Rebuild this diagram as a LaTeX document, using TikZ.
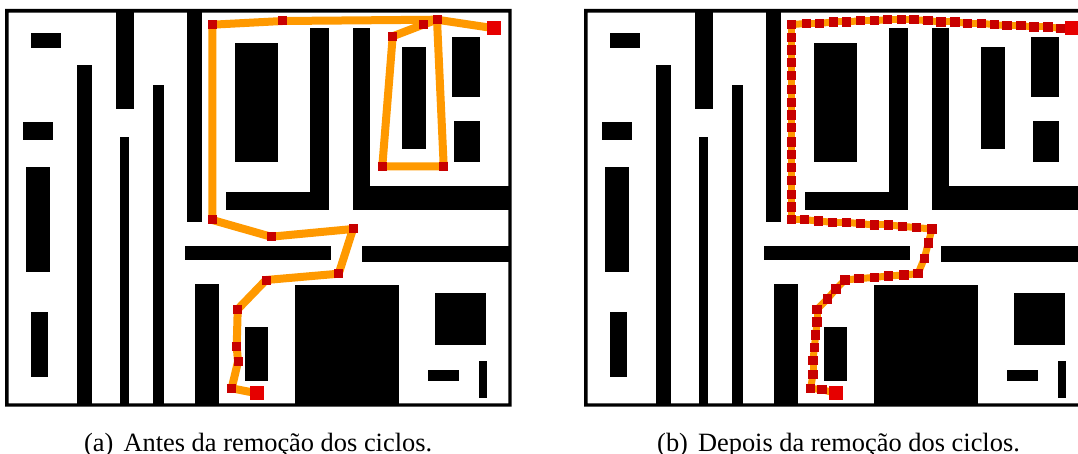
\documentclass[tikz,border=0pt]{standalone}
\usepackage{fontspec}
\setmainfont{Liberation Serif}
\definecolor{pathorange}{HTML}{FF9900}
\definecolor{waydark}{HTML}{C80000}
\definecolor{endred}{HTML}{E60000}
\tikzset{
  wall/.style={fill=black,draw=none},
  route/.style={draw=pathorange,line width=8pt,line join=bevel},
  routeb/.style={draw=pathorange,line width=7pt,line join=bevel},
  waya/.style={fill=waydark,draw=none,minimum size=9pt,inner sep=0pt,outer sep=0pt,rectangle},
  wayb/.style={fill=waydark,draw=none,minimum size=9.3pt,inner sep=0pt,outer sep=0pt,rectangle},
  endpt/.style={fill=endred,draw=none,minimum size=14pt,inner sep=0pt,outer sep=0pt,rectangle},
  caption/.style={inner sep=0pt,anchor=base west,font=\fontsize{26.4pt}{30pt}\selectfont},
}
\newcommand{\worldmap}{%
  \fill[black,even odd rule] (5,9) rectangle (511.7,406.7) (8.7,12.7) rectangle (508.3,403.3);
  \foreach \xa/\ya/\xb/\yb in {
    30.5/33/61/48.5,
    116/12/134/109.5,
    76.5/65/91.5/404,
    153/85/163.5/404,
    120/137.5/129/404,
    22.5/122/52.5/140.5,
    25.5/167/49.5/271.7,
    30.5/311.5/47.5/376.5,
    186.5/12/201.5/221.7,
    235/43/278.3/162.3,
    226/191.7/329.3/210.3,
    310/28.3/329.3/210.3,
    353.3/186/509/210.3,
    353.3/28.3/370/210.3,
    402.3/47.3/426.3/149.3,
    451.7/37/480.3/96.7,
    454.3/121.3/480.3/162.3,
    185/246.3/330.7/260,
    362.3/246.3/509/261.7,
    195.3/284.3/219.3/404,
    245/326.7/268/381,
    294.7/285.3/399.3/404,
    435.3/293.3/486.3/345.3,
    427.7/370/459.3/381.3,
    478.7/361/487.3/398}
    {\fill[wall] (\xa,\ya) rectangle (\xb,\yb);}%
}
\begin{document}
\begin{tikzpicture}[x=1pt,y=-1pt]
\useasboundingbox (0,0) rectangle (1078,454);
% panel a
\worldmap
\foreach \px/\py [count=\i] in {
  494.3/28.3, 437/19.7, 443.7/166.3, 382.3/166.3, 392.7/36.3, 423/24.7, 282.7/21, 212.3/24.7,
  212.3/220, 271/236.7, 353/229, 338.7/273.7, 266/280, 237.7/309.3, 236.7/346.3, 238/361.7, 231.7/388.3, 257/393.3}
  {\coordinate (a\i) at (\px,\py);}
\draw[route] (a1) -- (a2) -- (a3) -- (a4) -- (a5) -- (a6) -- (a2) -- (a7) -- (a8) -- (a9) -- (a10) -- (a11) -- (a12) -- (a13) -- (a14) -- (a15) -- (a16) -- (a17) -- (a18);
\foreach \i in {2,...,17} {\node[waya] (wa\i) at (a\i) {};}
\node[endpt] (sa) at (a1) {};
\node[endpt] (ga) at (a18) {};
% panel b
\begin{scope}
\clip (0,0) rectangle (1078,454);
\begin{scope}[xshift=579pt]
\worldmap
\end{scope}
\foreach \px/\py [count=\i] in {
  906/85,873/85,834/81,792/81,753/77,711/77,673/74,635/70,593/70,555/66,513/66,474/62,432/59,394/59,352/59,314/62,271/62,229/66,191/66,149/70,110/70,65/74,
  65/112,65/150,65/188,65/227,65/269,65/307,65/345,65/383,65/426,65/464,65/502,65/541,65/583,65/621,65/659,
  103/659,145/663,187/667,229/667,271/671,314/675,356/675,398/679,440/683,486/687}
  {\coordinate (b\i) at ({770+\px/3},{\py/3});}
\foreach \px/\py [count=\i from 48] in {
  475/114,463/160,444/206,402/210,356/213,314/217,267/221,225/225,198/252,172/282,141/313,141/351,137/390,133/428,129/466,129/508,122/550,156/554,198/565}
  {\coordinate (b\i) at ({770+\px/3},{205+\py/3});}
\foreach \i [remember=\i as \j (initially 1)] in {2,...,66}
  {\draw[routeb] (b\j) -- (b\i);}
\foreach \i in {2,...,65} {\node[wayb] (wb\i) at (b\i) {};}
\node[endpt] (sb) at (b1) {};
\node[endpt] (gb) at (b66) {};
\end{scope}
% captions
\node[caption] (capa) at (84,451.7) {(a)\hspace{0.38em}Antes da remoção dos ciclos.};
\node[caption] (capb) at (657,451.7) {(b)\hspace{0.38em}Depois da remoção dos ciclos.};
\end{tikzpicture}
\end{document}
